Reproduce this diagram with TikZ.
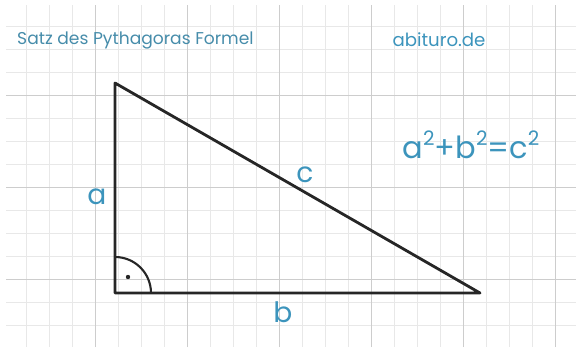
\documentclass[tikz,border=0pt]{standalone}
\usepackage{fontspec}
\setmainfont{Poppins}
\usepackage{tikz}
\usetikzlibrary{positioning, calc}
\definecolor{teal1}{RGB}{60,148,188}
\definecolor{teal2}{RGB}{70,140,170}
\definecolor{minorgray}{RGB}{232,232,232}
\definecolor{majorgray}{RGB}{205,205,205}
\newcommand{\sqtwo}{\raisebox{0.42em}{\fontsize{17}{17}\selectfont 2}}
\tikzset{
  minorline/.style={minorgray, line width=0.6pt},
  majorline/.style={majorgray, line width=0.8pt},
  lbl/.style={teal1, inner sep=0pt, font=\fontsize{24}{24}\selectfont}
}

\begin{document}
\begin{tikzpicture}[x=0.03cm, y=0.03cm]
  \useasboundingbox (0,0) rectangle (580,352);
  % paper grid
  \foreach \i in {0,...,23}
    \draw[minorline] ({26+23*\i},5) -- ({26+23*\i},347);
  \foreach \j in {0,...,13}
    \draw[minorline] (6,{27+23*\j}) -- (576,{27+23*\j});
  \foreach \x in {95,187,279,371,463,555}
    \draw[majorline] (\x,5) -- (\x,347);
  \foreach \y in {73,165,257}
    \draw[majorline] (6,\y) -- (576,\y);
  % headings
  \node[teal2, anchor=west, inner sep=0pt, font=\fontsize{14.6}{15}\selectfont]
    (title) at (17,312) {Satz des Pythagoras Formel};
  \node[teal1, inner sep=0pt, font=\fontsize{15.5}{16}\selectfont]
    (site) at (439,312) {abituro.de};
  % triangle
  \coordinate (C) at (115,59);
  \coordinate (A) at (115,269);
  \coordinate (B) at (480,59);
  \draw[line width=2.4pt, black!85, line join=round] (A) -- (C) -- (B) -- cycle;
  % right angle mark
  \draw[line width=1.8pt, black!85] ($(C)+(36,0)$) arc (0:90:36);
  \fill[black!85] ($(C)+(13,16)$) circle (2.2);
  % side labels
  \node[lbl] (la) at (97,155) {a};
  \node[lbl] (lb) at (283,40) {b};
  \node[lbl] (lc) at (305,177) {c};
  % formula
  \node[lbl, font=\fontsize{26}{26}\selectfont] (formula) at (471,207)
    {a\sqtwo+b\sqtwo=c\sqtwo};
\end{tikzpicture}
\end{document}
